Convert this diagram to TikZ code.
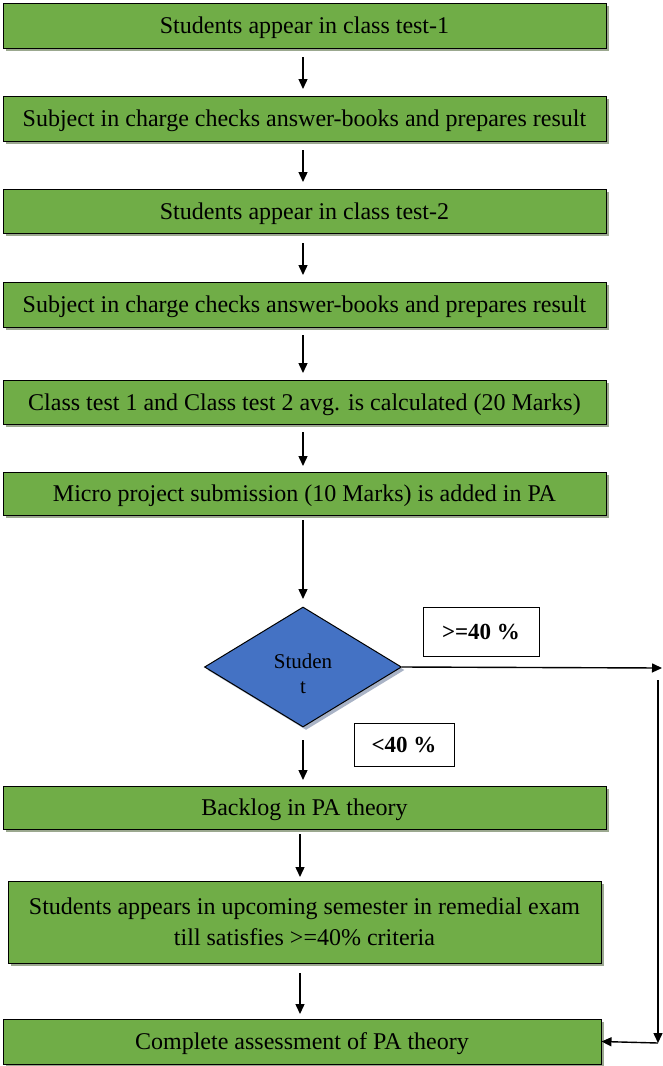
\documentclass[tikz,border=0pt]{standalone}
\usepackage{fontspec}
\setmainfont{Liberation Serif}
\usetikzlibrary{shapes.geometric,shadows,arrows.meta}
\definecolor{boxgreen}{HTML}{70AD47}
\definecolor{shadowgreen}{HTML}{9BA88F}
\definecolor{diablue}{HTML}{4472C4}
\definecolor{shadowblue}{HTML}{A9B3C6}
\begin{document}
\begin{tikzpicture}[x=1pt,y=-1pt,
  stepbox/.style={draw=black, line width=1pt, fill=boxgreen, inner sep=0pt,
    font=\fontsize{24}{28}\selectfont, align=center, text depth=0pt,
    drop shadow={shadow xshift=3pt, shadow yshift=-3pt, fill=shadowgreen, opacity=1}},
  decision/.style={diamond, draw=black, line width=1pt, fill=diablue, inner sep=0pt, aspect=1.65,
    minimum width=197pt, minimum height=120pt, align=center,
    font=\fontsize{21}{25}\selectfont, text height=53pt,
    drop shadow={shadow xshift=3pt, shadow yshift=-3pt, fill=shadowblue, opacity=1}},
  lbl/.style={draw=black, line width=0.8pt, fill=white, inner sep=0pt,
    font=\bfseries\fontsize{23}{26}\selectfont},
  arr/.style={-{Triangle[length=10pt,width=9pt]}, line width=1.4pt}]
\useasboundingbox (0,0) rectangle (662,1066);
\node[stepbox, minimum width=603pt, minimum height=45pt] (b1) at (304.5,25.5) {Students appear in class test-1};
\node[stepbox, minimum width=603pt, minimum height=45pt] (b2) at (304.5,118.5) {Subject in charge checks answer-books and prepares result};
\node[stepbox, minimum width=603pt, minimum height=44pt] (b3) at (304.5,211) {Students appear in class test-2};
\node[stepbox, minimum width=603pt, minimum height=45pt] (b4) at (304.5,304.5) {Subject in charge checks answer-books and prepares result};
\node[stepbox, minimum width=603pt, minimum height=44pt] (b5) at (304.5,402) {Class test 1 and Class test 2 avg. is calculated (20 Marks)};
\node[stepbox, minimum width=603pt, minimum height=43pt] (b6) at (304.5,493.5) {Micro project submission (10 Marks) is added in PA};
\node[decision] (d) at (303,667) {Studen\\t};
\node[lbl, minimum width=116pt, minimum height=49pt] (l1) at (481,631.5) {>=40 \%};
\node[lbl, minimum width=100pt, minimum height=43pt] (l2) at (404,744.5) {<40 \%};
\node[stepbox, minimum width=603pt, minimum height=43pt] (b7) at (304.5,807.5) {Backlog in PA theory};
\node[stepbox, minimum width=593pt, minimum height=82pt, font=\fontsize{24}{31}\selectfont] (b8) at (304.5,922) {Students appears in upcoming semester in remedial exam\\till satisfies >=40\% criteria};
\node[stepbox, minimum width=598pt, minimum height=45pt] (b9) at (302,1041.5) {Complete assessment of PA theory};
\coordinate (r1) at (662,668);
\coordinate (v1) at (658,680);
\coordinate (v2) at (658,1043);
\coordinate (a1) at (303,57); \coordinate (a1e) at (303,89);
\coordinate (a2) at (303,150); \coordinate (a2e) at (303,182);
\coordinate (a3) at (303,243); \coordinate (a3e) at (303,275);
\coordinate (a4) at (303,335); \coordinate (a4e) at (303,373);
\coordinate (a5) at (303,432); \coordinate (a5e) at (303,466);
\coordinate (a6) at (303,520); \coordinate (a6e) at (303,599);
\coordinate (a7) at (303,740); \coordinate (a7e) at (303,780);
\coordinate (a8) at (300,834); \coordinate (a8e) at (300,877);
\coordinate (a9) at (300,973); \coordinate (a9e) at (300,1014);
\draw[arr] (a1) -- (a1e);
\draw[arr] (a2) -- (a2e);
\draw[arr] (a3) -- (a3e);
\draw[arr] (a4) -- (a4e);
\draw[arr] (a5) -- (a5e);
\draw[arr] (a6) -- (a6e);
\draw[arr] (d.east) -- (r1);
\draw[arr] (a7) -- (a7e);
\draw[arr] (a8) -- (a8e);
\draw[arr] (a9) -- (a9e);
\draw[arr] (v1) -- (v2);
\draw[arr] (v2) -- (b9.east);
\end{tikzpicture}
\end{document}
